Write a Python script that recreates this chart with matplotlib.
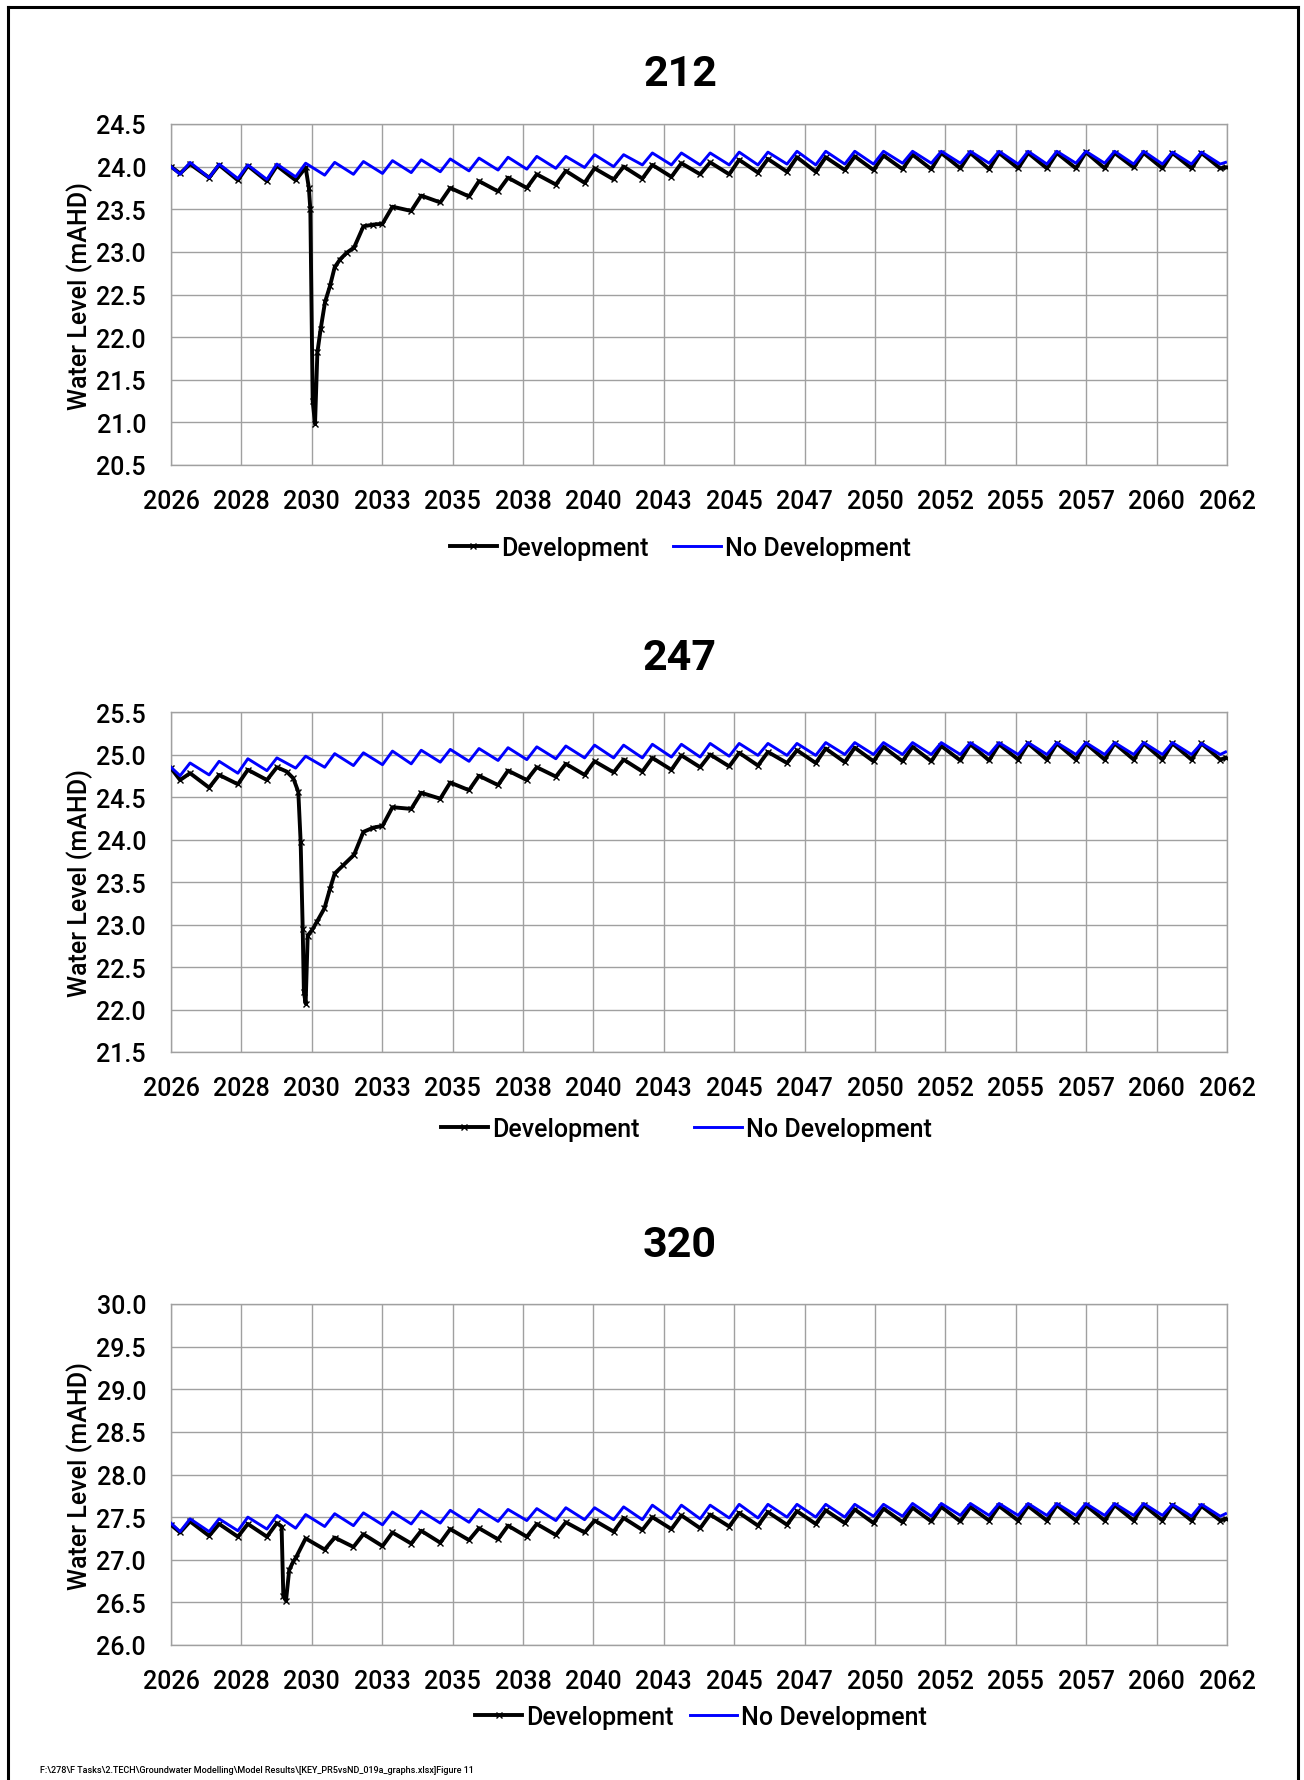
import matplotlib
matplotlib.use('Agg')
import matplotlib.pyplot as plt
from matplotlib.lines import Line2D
import numpy as np

plt.rcParams['font.family'] = ['Roboto', 'DejaVu Sans']

# tiempos de los vertices estacionales (valle / pico), en años decimales
t_start, t_end = 2026.00, 2061.95
t_trough = [2026.31, 2027.30, 2028.28, 2029.27, 2030.25, 2031.24, 2032.22, 2033.21, 2034.19, 2035.18,
            2036.16, 2037.15, 2038.13, 2039.12, 2040.10, 2041.09, 2042.07, 2043.06, 2044.04, 2045.03,
            2046.01, 2047.00, 2047.98, 2048.97, 2049.95, 2050.94, 2051.92, 2052.91, 2053.89, 2054.88,
            2055.86, 2056.85, 2057.83, 2058.82, 2059.80, 2060.79, 2061.77]
t_peak = [2026.65, 2027.64, 2028.62, 2029.61, 2030.59, 2031.58, 2032.56, 2033.55, 2034.53, 2035.52,
          2036.50, 2037.49, 2038.47, 2039.46, 2040.44, 2041.43, 2042.41, 2043.40, 2044.38, 2045.37,
          2046.35, 2047.34, 2048.32, 2049.31, 2050.29, 2051.28, 2052.26, 2053.25, 2054.23, 2055.22,
          2056.20, 2057.19, 2058.17, 2059.16, 2060.14, 2061.13]

# --- 212 ---
nd212_ends = (24.00, 24.05)
nd212_trough = [23.91, 23.87, 23.86, 23.85, 23.88, 23.90, 23.91, 23.92, 23.93, 23.94, 23.95, 23.96, 23.97,
                23.98, 23.99, 24.00, 24.02, 24.02, 24.02, 24.02, 24.02, 24.03, 24.02, 24.03, 24.03, 24.04,
                24.04, 24.04, 24.04, 24.03, 24.03, 24.04, 24.04, 24.03, 24.03, 24.03, 24.03]
nd212_peak = [24.05, 24.03, 24.02, 24.03, 24.04, 24.05, 24.06, 24.07, 24.08, 24.09, 24.10, 24.11, 24.12,
              24.12, 24.14, 24.14, 24.16, 24.16, 24.16, 24.17, 24.17, 24.18, 24.18, 24.18, 24.18, 24.18,
              24.18, 24.18, 24.18, 24.18, 24.18, 24.18, 24.18, 24.18, 24.17, 24.17]
dev212_ends = (24.00, 23.99)
dev212_trough = [23.92, 23.87, 23.84, 23.83, 23.84, None, None, 23.33, 23.48, 23.58, 23.65, 23.71, 23.75,
                 23.79, 23.81, 23.85, 23.86, 23.88, 23.91, 23.91, 23.93, 23.94, 23.94, 23.96, 23.96, 23.97,
                 23.97, 23.98, 23.97, 23.98, 23.98, 23.98, 23.98, 23.99, 23.98, 23.98, 23.98]
dev212_peak = [24.03, 24.02, 24.01, 24.01, 23.99, None, None, 23.53, 23.66, 23.75, 23.83, 23.87, 23.91,
               23.95, 23.98, 24.00, 24.02, 24.04, 24.05, 24.08, 24.09, 24.11, 24.11, 24.12, 24.13, 24.14,
               24.16, 24.16, 24.16, 24.16, 24.16, 24.17, 24.16, 24.16, 24.16, 24.16]
drop212_t = [2030.70, 2030.75, 2030.83, 2030.91, 2030.99, 2031.10, 2031.25, 2031.42, 2031.58, 2031.76,
             2031.99, 2032.24, 2032.56, 2032.90]
drop212_v = [23.75, 23.50, 21.25, 20.98, 21.82, 22.09, 22.41, 22.60, 22.82, 22.91, 22.99, 23.05, 23.30, 23.32]

# --- 247 ---
nd247_ends = (24.85, 25.03)
nd247_trough = [24.75, 24.76, 24.78, 24.81, 24.84, 24.85, 24.87, 24.88, 24.89, 24.91, 24.92, 24.93, 24.94,
                24.95, 24.96, 24.96, 24.96, 24.97, 24.97, 24.98, 24.99, 24.99, 24.99, 25.00, 25.00, 25.00,
                25.00, 25.00, 25.00, 25.00, 25.00, 25.00, 25.00, 25.00, 25.00, 25.00, 25.00]
nd247_peak = [24.90, 24.92, 24.95, 24.96, 24.98, 25.01, 25.02, 25.04, 25.05, 25.06, 25.07, 25.08, 25.09,
              25.10, 25.11, 25.11, 25.12, 25.12, 25.13, 25.13, 25.13, 25.13, 25.14, 25.14, 25.14, 25.14,
              25.14, 25.14, 25.14, 25.14, 25.14, 25.14, 25.14, 25.14, 25.14, 25.13]
dev247_ends = (24.84, 24.96)
dev247_trough = [24.70, 24.61, 24.65, 24.70, None, None, None, 24.16, 24.36, 24.48, 24.58, 24.64, 24.70,
                 24.74, 24.76, 24.79, 24.80, 24.82, 24.85, 24.86, 24.87, 24.90, 24.90, 24.91, 24.92, 24.92,
                 24.92, 24.93, 24.93, 24.94, 24.94, 24.94, 24.94, 24.94, 24.94, 24.94, 24.94]
dev247_peak = [24.78, 24.76, 24.82, 24.85, None, None, None, 24.38, 24.55, 24.67, 24.75, 24.81, 24.85,
               24.89, 24.92, 24.94, 24.96, 24.99, 25.00, 25.02, 25.03, 25.05, 25.07, 25.08, 25.09, 25.09,
               25.10, 25.12, 25.12, 25.13, 25.13, 25.13, 25.13, 25.13, 25.13, 25.13]
drop247_t = [2029.94, 2030.17, 2030.34, 2030.42, 2030.49, 2030.53, 2030.59, 2030.66, 2030.80, 2030.97,
             2031.23, 2031.42, 2031.58, 2031.88, 2032.24, 2032.56, 2032.90]
drop247_v = [24.80, 24.72, 24.56, 23.97, 22.95, 22.21, 22.07, 22.87, 22.93, 23.03, 23.19, 23.42, 23.60,
             23.70, 23.82, 24.09, 24.14]

# --- 320 ---
nd320_ends = (27.43, 27.54)
nd320_trough = [27.33, 27.33, 27.34, 27.36, 27.37, 27.39, 27.40, 27.41, 27.42, 27.43, 27.44, 27.45, 27.46,
                27.46, 27.47, 27.47, 27.47, 27.48, 27.48, 27.49, 27.49, 27.50, 27.50, 27.50, 27.51, 27.51,
                27.51, 27.52, 27.52, 27.52, 27.52, 27.52, 27.52, 27.52, 27.52, 27.51, 27.51]
nd320_peak = [27.48, 27.48, 27.50, 27.52, 27.53, 27.54, 27.55, 27.56, 27.57, 27.58, 27.59, 27.59, 27.60,
              27.61, 27.61, 27.62, 27.64, 27.64, 27.64, 27.65, 27.65, 27.65, 27.65, 27.65, 27.65, 27.66,
              27.66, 27.66, 27.66, 27.66, 27.66, 27.66, 27.66, 27.66, 27.65, 27.65]
dev320_ends = (27.41, 27.48)
dev320_trough = [27.32, 27.28, 27.27, 27.27, 27.02, 27.12, 27.15, 27.16, 27.19, 27.20, 27.23, 27.24, 27.27,
                 27.29, 27.32, 27.33, 27.35, 27.36, 27.37, 27.39, 27.40, 27.41, 27.42, 27.43, 27.43, 27.44,
                 27.45, 27.45, 27.46, 27.46, 27.46, 27.46, 27.46, 27.46, 27.46, 27.46, 27.46]
dev320_peak = [27.45, 27.42, 27.42, 27.43, 27.25, 27.26, 27.30, 27.32, 27.34, 27.36, 27.37, 27.40, 27.42,
               27.44, 27.46, 27.49, 27.50, 27.52, 27.53, 27.55, 27.56, 27.57, 27.58, 27.59, 27.60, 27.61,
               27.62, 27.62, 27.63, 27.63, 27.64, 27.64, 27.64, 27.64, 27.64, 27.63]
drop320_t = [2029.77, 2029.83, 2029.92, 2030.03, 2030.17]
drop320_v = [27.39, 26.57, 26.52, 26.88, 26.98]

x_ticks = [2026.0, 2028.4, 2030.8, 2033.2, 2035.6, 2038.0, 2040.4, 2042.8, 2045.2, 2047.6,
           2050.0, 2052.4, 2054.8, 2057.2, 2059.6, 2062.0]
x_labels = ['2026', '2028', '2030', '2033', '2035', '2038', '2040', '2043', '2045', '2047',
            '2050', '2052', '2055', '2057', '2060', '2062']

footer = r'F:\278\F Tasks\2.TECH\Groundwater Modelling\Model Results\[KEY_PR5vsND_019a_graphs.xlsx]Figure 11'


def serie(ends, troughs, peaks, drop_t=(), drop_v=()):
    t = [t_start]
    v = [ends[0]]
    for k in range(len(t_peak)):
        t += [t_trough[k], t_peak[k]]
        v += [troughs[k], peaks[k]]
    t += [t_trough[-1], t_end]
    v += [troughs[-1], ends[1]]
    pts = [(a, b) for a, b in zip(t, v) if b is not None]
    pts += list(zip(drop_t, drop_v))
    pts.sort()
    return np.array([p[0] for p in pts]), np.array([p[1] for p in pts])


W, H = 1304, 1781
fig = plt.figure(figsize=(W / 100, H / 100), dpi=100)

# paneles: (titulo, ymin, ymax, top px, bottom px, titulo y, leyenda y, leyenda x, colspacing, datos)
panels = [
    ('212', 20.5, 24.5, 125, 466, 75, 549, 680, 1.0,
     serie(dev212_ends, dev212_trough, dev212_peak, drop212_t, drop212_v),
     serie(nd212_ends, nd212_trough, nd212_peak)),
    ('247', 21.5, 25.5, 713, 1053, 659, 1130, 686, 2.2,
     serie(dev247_ends, dev247_trough, dev247_peak, drop247_t, drop247_v),
     serie(nd247_ends, nd247_trough, nd247_peak)),
    ('320', 26.0, 30.0, 1305, 1646, 1246, 1718, 701, 0.65,
     serie(dev320_ends, dev320_trough, dev320_peak, drop320_t, drop320_v),
     serie(nd320_ends, nd320_trough, nd320_peak)),
]

left, right = 171, 1227
grid_c = '#A0A0A0'

for title, y0, y1, top, bot, ty, ly, lx, cs, dev, nd in panels:
    ax = fig.add_axes([left / W, 1 - bot / H, (right - left) / W, (bot - top) / H])
    ax.plot(dev[0], dev[1], color='black', lw=2.8, marker='x', ms=4.5, mew=1.0,
            label='Development', zorder=3)
    ax.plot(nd[0], nd[1], color='#0000FF', lw=2.1, label='No Development', zorder=4)
    ax.set_xlim(2026, 2062)
    ax.set_ylim(y0, y1)
    ax.set_xticks(x_ticks, x_labels)
    yt = np.arange(y0, y1 + 0.01, 0.5)
    ax.set_yticks(yt, ['%.1f' % v for v in yt])
    ax.tick_params(length=0, labelsize=18, colors='black')
    ax.tick_params(axis='x', pad=17)
    ax.tick_params(axis='y', pad=18)
    for lab in ax.get_xticklabels() + ax.get_yticklabels():
        lab.set_fontweight('medium')
    ax.grid(True, color=grid_c, lw=1.0)
    for s in ax.spines.values():
        s.set_color(grid_c)
        s.set_linewidth(1.0)
    fig.text(680 / W, 1 - ty / H, title, ha='center', va='center', fontsize=31, fontweight='bold')
    fig.text(80 / W, 1 - (top + bot) / 2 / H, 'Water Level (mAHD)', rotation=90,
             ha='center', va='center', fontsize=18, fontweight='medium')
    leg = ax.legend(loc='center', bbox_to_anchor=(lx / W, 1 - ly / H), bbox_transform=fig.transFigure,
                    ncol=2, frameon=False, fontsize=18, handlelength=1.9, handletextpad=0.15,
                    columnspacing=cs, borderpad=0)
    for txt in leg.get_texts():
        txt.set_fontweight('medium')

# marco de la pagina
for xs, ys in [((8, 8), (H, 8)), ((8, 1298), (8, 8)), ((1298, 1298), (8, H))]:
    fig.add_artist(Line2D([x / W for x in xs], [1 - y / H for y in ys], color='black', lw=2.2))

fig.text(40 / W, 1 - 1771 / H, footer, ha='left', va='center', fontsize=6.5, fontweight='medium')

plt.savefig('out.png', dpi=100)
